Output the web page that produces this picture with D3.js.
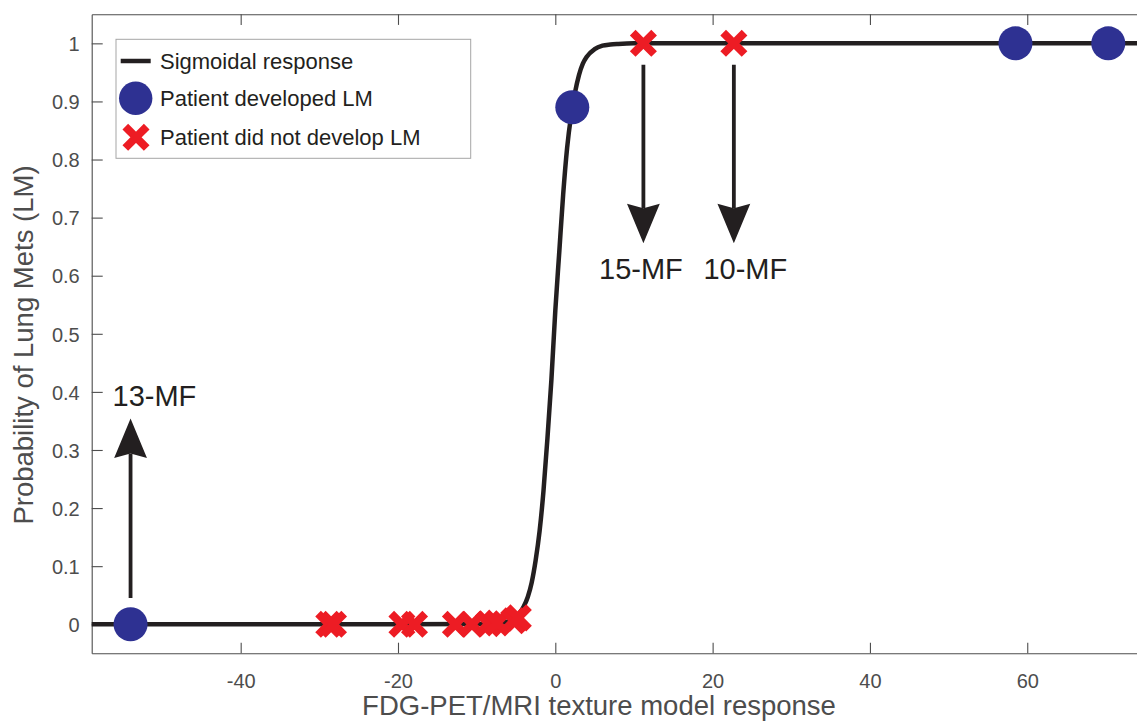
<!DOCTYPE html>
<meta charset="utf-8">
<script src="https://d3js.org/d3.v7.min.js"></script>
<style>
  body { margin: 0; background: #fff; }
  text { font-family: "Liberation Sans", Arial, Helvetica, sans-serif; }
</style>
<svg id="chart" width="1137" height="721"></svg>
<script>
// ticks
var xTicks = [-40, -20, 0, 20, 40, 60];
var yTicks = [0, 0.1, 0.2, 0.3, 0.4, 0.5, 0.6, 0.7, 0.8, 0.9, 1];

// sigmoidal response
var curveX = [-58.94, -20, -10, -8, -7, -6, -5, -4.5, -4, -3.5, -3, -2.5, -2, -1.5, -1, -0.5, 0, 0.5, 1, 1.5, 2, 2.5, 3, 3.5, 4, 5, 6, 7, 8, 10, 20, 74.97];
var curveY = [0, 0, 0.0003, 0.001, 0.002, 0.005, 0.013, 0.02, 0.031, 0.047, 0.072, 0.11, 0.16, 0.23, 0.32, 0.42, 0.54, 0.64, 0.74, 0.82, 0.875, 0.915, 0.945, 0.965, 0.977, 0.99, 0.996, 0.998, 0.999, 1, 1, 1];

// patients who developed LM
var developedX = [-54.0, 2.16, 58.5, 70.3];
var developedY = [0, 0.89, 1, 1];

// patients who did not develop LM
var notDevelopedX = [-28.8, -28.2, -19.5, -17.9, -12.7, -10.6, -8.5, -7.4, -5.3, -4.7, 11.2, 22.7];
var notDevelopedY = [0, 0, 0, 0, 0, 0, 0.001, 0.002, 0.006, 0.011, 1, 1];

// arrow annotations
var arrowLabels = ["13-MF", "15-MF", "10-MF"];
var arrowX = [-54.0, 11.2, 22.7];
var arrowFrom = [0.045, 0.963, 0.963];
var arrowTo = [0.354, 0.656, 0.656];

var legendLabels = ["Sigmoidal response", "Patient developed LM", "Patient did not develop LM"];

var axisColor = "#4d4d4d";
var lineColor = "#231f20";
var blue = "#2e3192";
var red = "#ed1c24";

var svg = d3.select("#chart");

var x = d3.scaleLinear().domain([-58.94, 74.97]).range([91.7, 1145]);
var y = d3.scaleLinear().domain([-0.05, 1.05]).range([653.3, 14.3]);

// axes (ticks pointing inward, box style)
var gBottom = svg.append("g")
  .attr("transform", "translate(0," + y(-0.05) + ")")
  .call(d3.axisBottom(x).tickValues(xTicks).tickSizeInner(-10.6).tickSizeOuter(0).tickPadding(20.5)
    .tickFormat(function(d) { return d; }));
var gTop = svg.append("g")
  .attr("transform", "translate(0," + y(1.05) + ")")
  .call(d3.axisTop(x).tickValues(xTicks).tickSizeInner(-10.6).tickSizeOuter(0).tickFormat(""));
var gLeft = svg.append("g")
  .attr("transform", "translate(" + x(-58.94) + ",0)")
  .call(d3.axisLeft(y).tickValues(yTicks).tickSizeInner(-11).tickSizeOuter(0).tickPadding(12)
    .tickFormat(function(d) { return d; }));

[gBottom, gTop, gLeft].forEach(function(g) {
  g.selectAll("path").attr("stroke", axisColor).attr("stroke-width", 1.1);
  g.selectAll("line").attr("stroke", axisColor).attr("stroke-width", 1.1);
  g.selectAll("text").attr("fill", axisColor).style("font-size", "20px")
    .style("font-family", '"Liberation Sans", Arial, Helvetica, sans-serif');
});
gLeft.selectAll("text").attr("dy", "0.36em");

// axis labels
svg.append("text")
  .attr("x", 599).attr("y", 715)
  .attr("text-anchor", "middle")
  .attr("fill", axisColor)
  .style("font-size", "27.5px")
  .text("FDG-PET/MRI texture model response");
svg.append("text")
  .attr("transform", "translate(33,345) rotate(-90)")
  .attr("text-anchor", "middle")
  .attr("fill", axisColor)
  .style("font-size", "27.5px")
  .text("Probability of Lung Mets (LM)");

// sigmoid curve
var curveData = curveX.map(function(d, i) { return [d, curveY[i]]; });
svg.append("path")
  .datum(curveData)
  .attr("fill", "none")
  .attr("stroke", lineColor)
  .attr("stroke-width", 4.5)
  .attr("d", d3.line()
    .x(function(d) { return x(d[0]); })
    .y(function(d) { return y(d[1]); })
    .curve(d3.curveMonotoneX));

// arrows
var headLen = 39.4, headHalf = 16.4, notch = 4.5;
arrowLabels.forEach(function(label, i) {
  var ax = x(arrowX[i]), y0 = y(arrowFrom[i]), y1 = y(arrowTo[i]);
  var dir = y1 < y0 ? 1 : -1; // 1 = pointing up
  var back = y1 + dir * headLen;
  svg.append("line")
    .attr("x1", ax).attr("x2", ax)
    .attr("y1", y0).attr("y2", back - dir * notch)
    .attr("stroke", lineColor).attr("stroke-width", 3.8);
  svg.append("path")
    .attr("d", "M" + ax + "," + y1 +
      "L" + (ax + headHalf) + "," + back +
      "L" + ax + "," + (back - dir * notch) +
      "L" + (ax - headHalf) + "," + back + "Z")
    .attr("fill", lineColor);
});

// arrow labels
var labelDx = [-18, -44.4, -30.4];
arrowLabels.forEach(function(label, i) {
  var ax = x(arrowX[i]), y1 = y(arrowTo[i]);
  var up = arrowTo[i] > arrowFrom[i];
  svg.append("text")
    .attr("x", ax + labelDx[i])
    .attr("y", up ? y1 - 12.6 : y1 + 35.6)
    .attr("fill", lineColor)
    .style("font-size", "29px")
    .text(label);
});

// markers
var s = 10.7;
function crossPath(cx, cy) {
  return "M" + (cx - s) + "," + (cy - s) + "L" + (cx + s) + "," + (cy + s) +
         "M" + (cx - s) + "," + (cy + s) + "L" + (cx + s) + "," + (cy - s);
}

svg.append("g").selectAll("circle")
  .data(developedX)
  .enter().append("circle")
  .attr("cx", function(d) { return x(d); })
  .attr("cy", function(d, i) { return y(developedY[i]); })
  .attr("r", 17)
  .attr("fill", blue);

svg.append("g").selectAll("path")
  .data(notDevelopedX)
  .enter().append("path")
  .attr("d", function(d, i) { return crossPath(x(d), y(notDevelopedY[i])); })
  .attr("stroke", red)
  .attr("stroke-width", 8)
  .attr("fill", "none");

// legend
var legend = svg.append("g");
legend.append("rect")
  .attr("x", 116).attr("y", 39.3)
  .attr("width", 354.7).attr("height", 119)
  .attr("fill", "#fff")
  .attr("stroke", "#a6a6a6")
  .attr("stroke-width", 1);
legend.append("line")
  .attr("x1", 120.7).attr("x2", 150.7)
  .attr("y1", 61).attr("y2", 61)
  .attr("stroke", lineColor).attr("stroke-width", 4.5);
legend.append("circle")
  .attr("cx", 135.7).attr("cy", 98.3).attr("r", 16.7)
  .attr("fill", blue);
legend.append("path")
  .attr("d", crossPath(136, 137.3))
  .attr("stroke", red).attr("stroke-width", 8).attr("fill", "none");
var legendY = [68.6, 106.3, 145];
legendLabels.forEach(function(t, i) {
  legend.append("text")
    .attr("x", 160).attr("y", legendY[i])
    .attr("fill", lineColor)
    .style("font-size", "22px")
    .text(t);
});
</script>
